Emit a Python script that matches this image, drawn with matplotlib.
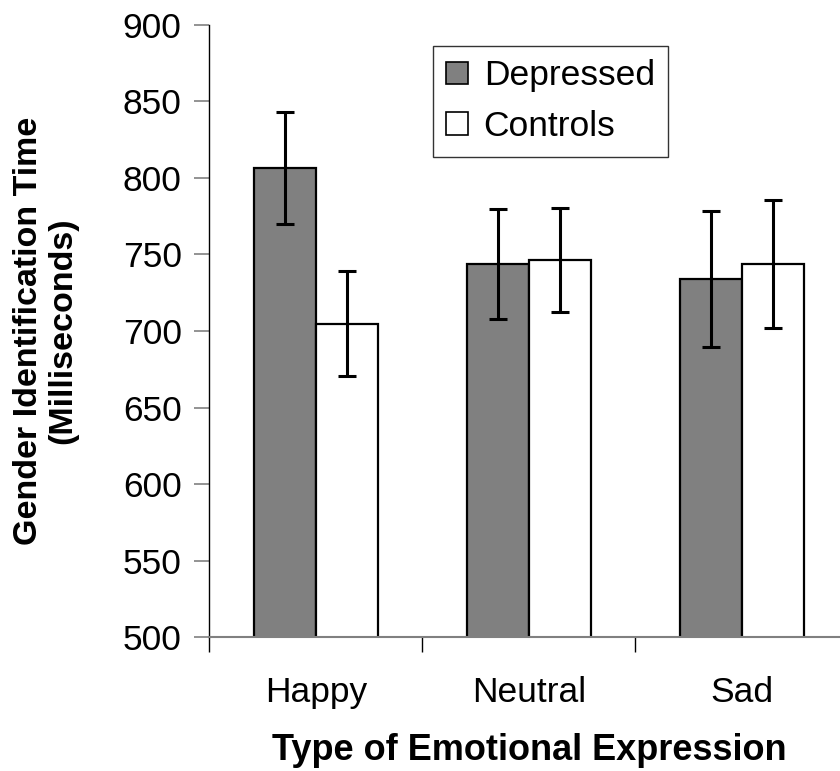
import numpy as np
import matplotlib.pyplot as plt
from matplotlib.patches import Patch

plt.rcParams['font.family'] = ['Liberation Sans', 'DejaVu Sans']

categories = ['Happy', 'Neutral', 'Sad']
depressed = [806.7, 743.8, 733.8]
depressed_err = [36.5, 36.0, 44.4]
controls = [704.8, 746.4, 743.8]
controls_err = [34.2, 34.0, 41.7]

fig = plt.figure(figsize=(8.4, 7.71), dpi=100)
ax = fig.add_axes([0.2494, 0.1732, 0.7607, 0.7948])

x = np.arange(len(categories))
w = 0.29
err_kw = dict(ecolor='black', elinewidth=2.2, capsize=6.5, capthick=2.2)
ax.bar(x - w / 2, depressed, w, color='#808080', edgecolor='black', linewidth=1.6,
       yerr=depressed_err, error_kw=err_kw, zorder=2)
ax.bar(x + w / 2, controls, w, color='white', edgecolor='black', linewidth=1.6,
       yerr=controls_err, error_kw=err_kw, zorder=2)

ax.set_ylim(500, 900)
ax.set_xlim(-0.5, 2.5)
ax.set_yticks(np.arange(500, 901, 50))
ax.set_xticks(x)
ax.set_xticklabels(categories)
ax.set_xticks([-0.5, 0.5, 1.5], minor=True)
ax.tick_params(axis='x', which='major', length=0, pad=28, labelsize=25.5)
ax.tick_params(axis='x', which='minor', length=11, width=1, color='black', direction='out')
ax.tick_params(axis='y', length=11, width=1.2, color='#808080', direction='out', pad=9, labelsize=25.5)

for s in ['top', 'right']:
    ax.spines[s].set_visible(False)
ax.spines['left'].set_linewidth(1)
ax.spines['bottom'].set_color('#808080')
ax.spines['bottom'].set_linewidth(1.5)

ax.set_ylabel('Gender Identification Time\n(Milliseconds)', fontsize=24.5, fontweight='bold',
              labelpad=32, linespacing=1.15)
ax.set_xlabel('Type of Emotional Expression', fontsize=26, fontweight='bold', labelpad=17)

handles = [Patch(facecolor='#808080', edgecolor='black', linewidth=1.2),
           Patch(facecolor='white', edgecolor='black', linewidth=1.2)]
leg = fig.legend(handles, ['Depressed', 'Controls'], loc='upper left',
                 bbox_to_anchor=(433 / 840, 1 - 46 / 771), fontsize=25.5, frameon=True,
                 fancybox=False, edgecolor='black', handlelength=0.6, handleheight=0.6,
                 handletextpad=0.45, borderpad=0.38, labelspacing=0.5, borderaxespad=0)
leg.get_frame().set_linewidth(1)

fig.savefig('out.png', dpi=100)
